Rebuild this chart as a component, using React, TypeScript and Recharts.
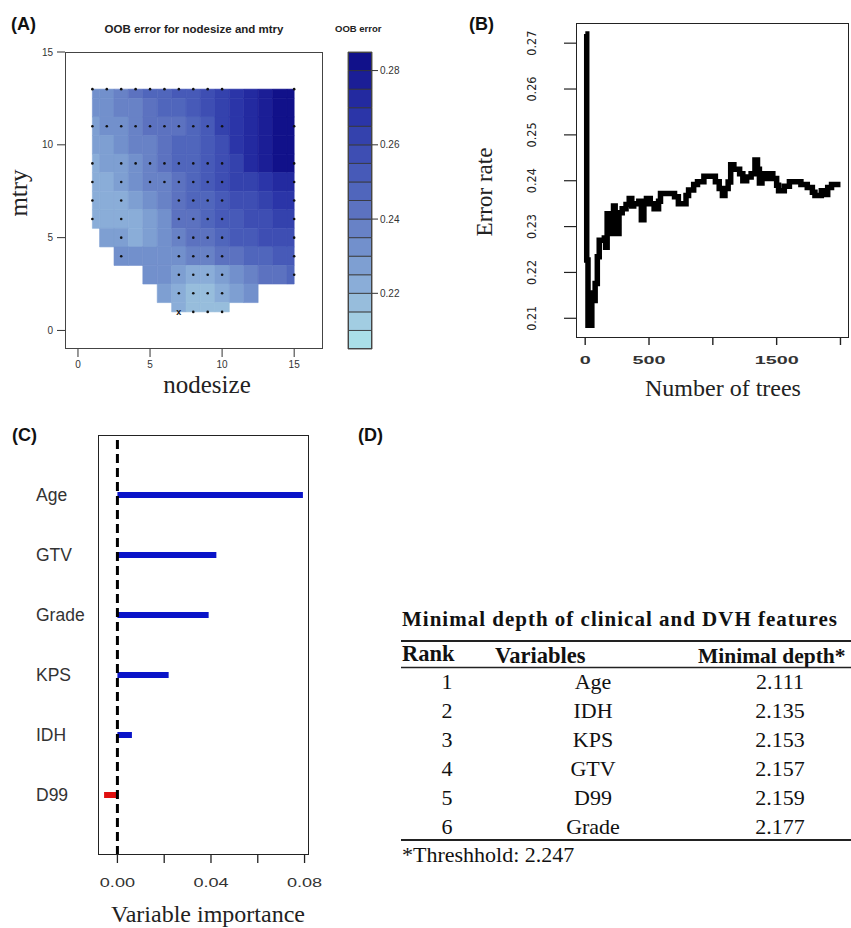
import { ScatterChart, Scatter, XAxis, YAxis, ReferenceArea, LineChart, Line, ComposedChart, Bar, Cell, ReferenceLine } from 'recharts'

// ---- panel A: OOB error grid ----
const nodesizes = [1, 2, 3, 4, 5, 6, 7, 8, 9, 10, 11, 12, 13, 14, 15]
const mtryLevels = [13, 12, 11, 10, 9, 8, 7, 6, 5, 4, 3, 2, 1]
// one row per mtry level (top to bottom), one value per nodesize; null = outside the fitted region
const oobGrid: (number | null)[][] = [
  [0.232, 0.234, 0.237, 0.241, 0.245, 0.248, 0.251, 0.254, 0.258, 0.263, 0.268, 0.273, 0.278, 0.282, 0.283],
  [0.230, 0.232, 0.235, 0.239, 0.243, 0.246, 0.248, 0.252, 0.256, 0.262, 0.267, 0.272, 0.277, 0.281, 0.283],
  [0.228, 0.230, 0.233, 0.237, 0.241, 0.243, 0.243, 0.248, 0.254, 0.260, 0.266, 0.270, 0.276, 0.281, 0.283],
  [0.226, 0.228, 0.231, 0.235, 0.239, 0.242, 0.245, 0.249, 0.253, 0.259, 0.265, 0.270, 0.277, 0.282, 0.284],
  [0.224, 0.226, 0.229, 0.233, 0.237, 0.241, 0.245, 0.249, 0.253, 0.258, 0.264, 0.270, 0.276, 0.281, 0.283],
  [0.223, 0.224, 0.227, 0.231, 0.235, 0.239, 0.244, 0.248, 0.252, 0.256, 0.260, 0.264, 0.268, 0.271, 0.273],
  [0.222, 0.222, 0.224, 0.227, 0.231, 0.236, 0.242, 0.246, 0.249, 0.252, 0.256, 0.259, 0.262, 0.265, 0.267],
  [0.223, 0.221, 0.221, 0.223, 0.227, 0.233, 0.240, 0.244, 0.247, 0.250, 0.253, 0.256, 0.259, 0.261, 0.263],
  [null, 0.229, 0.225, 0.224, 0.227, 0.231, 0.236, 0.240, 0.244, 0.247, 0.250, 0.252, 0.255, 0.257, 0.258],
  [null, null, 0.232, 0.231, 0.232, 0.232, 0.233, 0.235, 0.238, 0.241, 0.244, 0.247, 0.249, 0.251, 0.252],
  [null, null, null, null, 0.233, 0.231, 0.226, 0.222, 0.222, 0.228, 0.234, 0.238, 0.241, 0.243, 0.245],
  [null, null, null, null, null, 0.229, 0.222, 0.218, 0.218, 0.223, 0.228, 0.233, null, null, null],
  [null, null, null, null, null, null, 0.221, 0.216, 0.216, 0.219, null, null, null, null, null],
]

// sampled (nodesize, mtry) points shown as dots
const sampleMtry = [13, 11, 9, 8, 7, 6, 5, 4, 3, 2, 1]
const sampleNodesizes = [
  [1, 2, 3, 4, 5, 6, 7, 8, 9, 10, 15],
  [1, 2, 3, 4, 5, 6, 7, 8, 9, 10, 15],
  [1, 3, 4, 5, 6, 7, 8, 9, 10, 15],
  [1, 3, 5, 6, 7, 8, 9, 10, 15],
  [1, 3, 7, 8, 9, 10, 15],
  [1, 3, 7, 8, 9, 10, 15],
  [3, 7, 8, 9, 10, 15],
  [3, 7, 8, 9, 10, 15],
  [7, 8, 9, 10, 15],
  [7, 8, 9, 10],
  [8, 9, 10],
]
const bestPoint = [{ nodesize: 7, mtry: 1 }]

const oobLevels = [0.205, 0.21, 0.215, 0.22, 0.225, 0.23, 0.235, 0.24, 0.245, 0.25, 0.255, 0.26, 0.265, 0.27, 0.275, 0.28, 0.285]
const oobColors = [
  '#aadfe8', '#a2cde2', '#97bddc', '#8aadd8', '#7e9fd2', '#7290cc', '#6882c6', '#5c72c0',
  '#5066bc', '#475ab8', '#3e4eb3', '#3442ad', '#2b35a8', '#232aa0', '#1b1e96', '#11118a',
]
const oobTicks = [0.22, 0.24, 0.26, 0.28]

// ---- panel B: error rate vs number of trees ----
const treeCounts = [1, 12, 22, 52, 62, 78, 95, 110, 150, 160, 172, 200, 215, 222, 235, 255, 265, 290, 320, 345, 365, 380, 420, 440, 460, 480, 510, 540, 575, 590, 700, 730, 790, 810, 850, 880, 930, 1020, 1050, 1075, 1095, 1120, 1140, 1165, 1210, 1235, 1265, 1300, 1330, 1350, 1365, 1385, 1420, 1440, 1470, 1500, 1515, 1560, 1600, 1690, 1740, 1780, 1800, 1850, 1870, 1900, 1930, 2000]
const errorRates = [0.272, 0.2227, 0.2085, 0.2155, 0.2139, 0.2176, 0.2234, 0.227, 0.2275, 0.2255, 0.2328, 0.23, 0.2285, 0.2345, 0.23, 0.2285, 0.233, 0.2339, 0.2348, 0.2361, 0.2345, 0.235, 0.2355, 0.2315, 0.235, 0.2361, 0.235, 0.2339, 0.2355, 0.2372, 0.2365, 0.235, 0.2368, 0.238, 0.2392, 0.2398, 0.241, 0.2398, 0.2383, 0.2368, 0.2383, 0.2397, 0.2435, 0.2425, 0.2415, 0.24, 0.2408, 0.2415, 0.2445, 0.2425, 0.2395, 0.2415, 0.2405, 0.2415, 0.2405, 0.239, 0.2378, 0.2388, 0.2398, 0.2392, 0.2385, 0.2375, 0.2368, 0.2378, 0.237, 0.2385, 0.2392, 0.2392]
const treeTicks = [0, 500, 1000, 1500, 2000]
const treeTickLabels = ['0', '500', '', '1500', '']
const errTicks = [0.21, 0.22, 0.23, 0.24, 0.25, 0.26, 0.27]

// ---- panel C: variable importance ----
const variables = ['Age', 'GTV', 'Grade', 'KPS', 'IDH', 'D99']
const importance = [0.0793, 0.0423, 0.039, 0.0219, 0.0062, -0.0057]
const vimpTicks = [0, 0.02, 0.04, 0.06, 0.08]
const vimpTickLabels = ['0.00', '', '0.04', '', '0.08']

// ---- panel D: minimal depth table ----
const depthRanks = [1, 2, 3, 4, 5, 6]
const depthVariables = ['Age', 'IDH', 'KPS', 'GTV', 'D99', 'Grade']
const minimalDepths = ['2.111', '2.135', '2.153', '2.157', '2.159', '2.177']

const SANS = "'Liberation Sans', Arial, sans-serif"
const SERIF = "'Liberation Serif', 'Times New Roman', serif"

const colorFor = (v: number) => {
  const i = Math.min(oobColors.length - 1, Math.max(0, Math.floor((v - oobLevels[0]) / 0.005 + 1e-9)))
  return oobColors[i]
}

const cells: { x1: number; x2: number; y1: number; y2: number; fill: string }[] = []
mtryLevels.forEach((m, r) => {
  nodesizes.forEach((n, c) => {
    const v = oobGrid[r][c]
    if (v == null) return
    cells.push({
      x1: Math.max(1, n - 0.5), x2: Math.min(15, n + 0.5),
      y1: Math.max(1, m - 0.5), y2: Math.min(13, m + 0.5),
      fill: colorFor(v),
    })
  })
})

const samplePoints = sampleMtry.flatMap((m, i) => sampleNodesizes[i].map(n => ({ nodesize: n, mtry: m })))
const keyData = oobLevels.map(l => ({ x: 0.5, level: l }))
const errData = treeCounts.map((t, i) => ({ trees: t, err: errorRates[i] }))
const vimpData = variables.map((v, i) => ({ variable: v, importance: importance[i] }))

function Frame({ left, top, width, height, color = '#333', w = 1 }: { left: number; top: number; width: number; height: number; color?: string; w?: number }) {
  return <div style={{ position: 'absolute', left, top, width, height, border: `${w}px solid ${color}`, boxSizing: 'border-box', pointerEvents: 'none' }} />
}

function ErrYTick(props: any) {
  const { x, y, payload } = props
  return (
    <text transform={`translate(${x - 28},${y}) rotate(-90)`} textAnchor="middle"
      fontFamily="'Liberation Sans Narrow', 'DejaVu Sans Condensed', sans-serif" fontSize={12.5} fill="#222">
      {payload.value.toFixed(2)}
    </text>
  )
}

function TreeXTick(props: any) {
  const { x, y, index } = props
  const label = treeTickLabels[index]
  if (!label) return null
  return (
    <text transform={`translate(${x},${y + 19}) scale(1.8,1)`} textAnchor="middle" fontFamily={SANS} fontWeight="bold" fontSize={11} fill="#333">
      {label}
    </text>
  )
}

function VimpXTick(props: any) {
  const { x, y, index } = props
  const label = vimpTickLabels[index]
  if (!label) return null
  return (
    <text transform={`translate(${x},${y + 24}) scale(1.45,1)`} textAnchor="middle" fontFamily={SANS} fontSize={12.5} fill="#333">
      {label}
    </text>
  )
}

function VarTick(props: any) {
  const { y, payload } = props
  return <text x={36} y={y + 6} textAnchor="start" fontFamily={SANS} fontSize={17.5} fill="#333">{payload.value}</text>
}

const tickA = { fontSize: 10, fill: '#333', fontFamily: SANS }

export default function App() {
  return (
    <div style={{ position: 'absolute', left: 0, top: 0, width: 851, height: 928, background: '#fff', overflow: 'hidden' }}>
      {/* panel A */}
      <div style={{ position: 'absolute', left: 0, top: 0 }}>
        <ScatterChart width={400} height={400} margin={{ top: 52, right: 77, bottom: 26, left: 0 }}>
          <XAxis type="number" dataKey="nodesize" domain={[-0.9, 17]} ticks={[0, 5, 10, 15]} height={25}
            tick={tickA} tickSize={8} tickMargin={4} axisLine={false} tickLine={{ stroke: '#333' }} />
          <YAxis type="number" dataKey="mtry" domain={[-1, 15]} ticks={[0, 5, 10, 15]} width={65}
            tick={tickA} tickSize={8} tickMargin={4} axisLine={false} tickLine={{ stroke: '#333' }} />
          {cells.map((c, i) => (
            <ReferenceArea key={i} x1={c.x1} x2={c.x2} y1={c.y1} y2={c.y2} fill={c.fill} fillOpacity={1} stroke={c.fill} strokeWidth={0.6} />
          ))}
          <Scatter data={samplePoints} isAnimationActive={false}
            shape={(p: any) => <circle cx={p.cx} cy={p.cy} r={1.3} fill="#111" />} />
          <Scatter data={bestPoint} isAnimationActive={false}
            shape={(p: any) => <text x={p.cx} y={p.cy + 3.5} textAnchor="middle" fontFamily={SANS} fontWeight="bold" fontSize={9} fill="#111">x</text>} />
        </ScatterChart>
      </div>
      <Frame left={65} top={52} width={258} height={297} color="#444" />

      {/* colour key */}
      <div style={{ position: 'absolute', left: 340, top: 0 }}>
        <ScatterChart width={90} height={400} margin={{ top: 52, right: 0, bottom: 51, left: 8 }}>
          <XAxis type="number" dataKey="x" domain={[0, 1]} hide />
          <YAxis type="number" dataKey="level" orientation="right" domain={[oobLevels[0], oobLevels[oobLevels.length - 1]]} ticks={oobTicks} width={58}
            tick={tickA} tickSize={6} tickMargin={2} axisLine={false} tickLine={{ stroke: '#333' }} tickFormatter={(v: number) => v.toFixed(2)} />
          {oobColors.map((c, i) => (
            <ReferenceArea key={i} x1={0} x2={1} y1={oobLevels[i]} y2={oobLevels[i + 1]} fill={c} fillOpacity={1} stroke="#333" strokeWidth={0.8} />
          ))}
          <Scatter data={keyData} isAnimationActive={false} shape={() => <g />} />
        </ScatterChart>
      </div>
      <Frame left={348} top={52} width={24} height={297} color="#444" />

      {/* panel B */}
      <div style={{ position: 'absolute', left: 440, top: 0 }}>
        <LineChart width={411} height={410} data={errData} margin={{ top: 23, right: 3, bottom: 42, left: 76 }}>
          <XAxis type="number" dataKey="trees" domain={[-72, 2059]} ticks={treeTicks} height={30}
            tick={<TreeXTick />} tickSize={7} tickMargin={0} axisLine={false} tickLine={{ stroke: '#222', strokeWidth: 1.4 }} />
          <YAxis type="number" domain={[0.2057, 0.2744]} ticks={errTicks} width={60}
            tick={<ErrYTick />} tickSize={12} tickMargin={0} axisLine={false} tickLine={{ stroke: '#222', strokeWidth: 1.2 }} />
          <Line type="stepAfter" dataKey="err" stroke="#000" strokeWidth={5.5} dot={false} isAnimationActive={false} />
        </LineChart>
      </div>
      <Frame left={576} top={23} width={273} height={315} color="#222" w={1.3} />

      {/* panel C */}
      <div style={{ position: 'absolute', left: 0, top: 420 }}>
        <ComposedChart layout="vertical" width={340} height={508} data={vimpData} margin={{ top: 15, right: 31, bottom: 43, left: 0 }}>
          <XAxis type="number" domain={[-0.0083, 0.0819]} ticks={vimpTicks} height={30}
            tick={<VimpXTick />} tickSize={8} tickMargin={0} axisLine={false} tickLine={{ stroke: '#222', strokeWidth: 1.3 }} />
          <YAxis type="category" dataKey="variable" width={98} padding={{ top: 30, bottom: 30 }}
            tick={<VarTick />} tickLine={false} axisLine={false} />
          <ReferenceLine x={0} stroke="#000" strokeWidth={3} strokeDasharray="9 5" />
          <Bar dataKey="importance" barSize={6} isAnimationActive={false}>
            {vimpData.map((d, i) => <Cell key={i} fill={d.importance < 0 ? '#e01010' : '#0a14c8'} />)}
          </Bar>
        </ComposedChart>
      </div>
      <Frame left={98} top={435} width={211} height={420} color="#222" w={1.5} />

      {/* titles, axis labels and table */}
      <svg width={851} height={928} style={{ position: 'absolute', left: 0, top: 0, pointerEvents: 'none' }}>
        <g fontFamily={SANS} fontWeight="bold" fontSize={18} fill="#111">
          <text x={11} y={30}>(A)</text>
          <text x={469} y={30}>(B)</text>
          <text x={12} y={441}>(C)</text>
          <text x={358} y={441}>(D)</text>
        </g>
        <text x={194} y={33} textAnchor="middle" fontFamily={SANS} fontWeight="bold" fontSize={11.5} fill="#222">OOB error for nodesize and mtry</text>
        <text x={335} y={32} fontFamily={SANS} fontWeight="bold" fontSize={9.5} fill="#222">OOB error</text>

        <g fontFamily={SERIF} fill="#222">
          <text transform="translate(27,193) rotate(-90)" textAnchor="middle" fontSize={25}>mtry</text>
          <text x={207} y={393} textAnchor="middle" fontSize={25}>nodesize</text>
          <text transform="translate(492,192) rotate(-90)" textAnchor="middle" fontSize={23}>Error rate</text>
          <text x={723} y={396} textAnchor="middle" fontSize={24}>Number of trees</text>
          <text x={208} y={922} textAnchor="middle" fontSize={24}>Variable importance</text>
        </g>

        <g fontFamily={SERIF} fill="#111">
          <text x={402} y={626} fontWeight="bold" fontSize={21} letterSpacing={1}>Minimal depth of clinical and DVH features</text>
          <line x1={401} x2={851} y1={641} y2={641} stroke="#222" strokeWidth={2} />
          <text x={402} y={661} fontWeight="bold" fontSize={22.5}>Rank</text>
          <text x={495} y={663} fontWeight="bold" fontSize={22.5}>Variables</text>
          <text x={698} y={663} fontWeight="bold" fontSize={21.5}>Minimal depth*</text>
          <line x1={401} x2={851} y1={667.5} y2={667.5} stroke="#222" strokeWidth={1.5} />
          {depthRanks.map((r, i) => (
            <g key={r} fontSize={22}>
              <text x={447} y={689 + 29 * i} textAnchor="middle">{r}</text>
              <text x={593} y={689 + 29 * i} textAnchor="middle">{depthVariables[i]}</text>
              <text x={780} y={689 + 29 * i} textAnchor="middle">{minimalDepths[i]}</text>
            </g>
          ))}
          <line x1={401} x2={851} y1={840} y2={840} stroke="#222" strokeWidth={2} />
          <text x={402} y={862} fontSize={22}>*Threshhold: 2.247</text>
        </g>
      </svg>
    </div>
  )
}
